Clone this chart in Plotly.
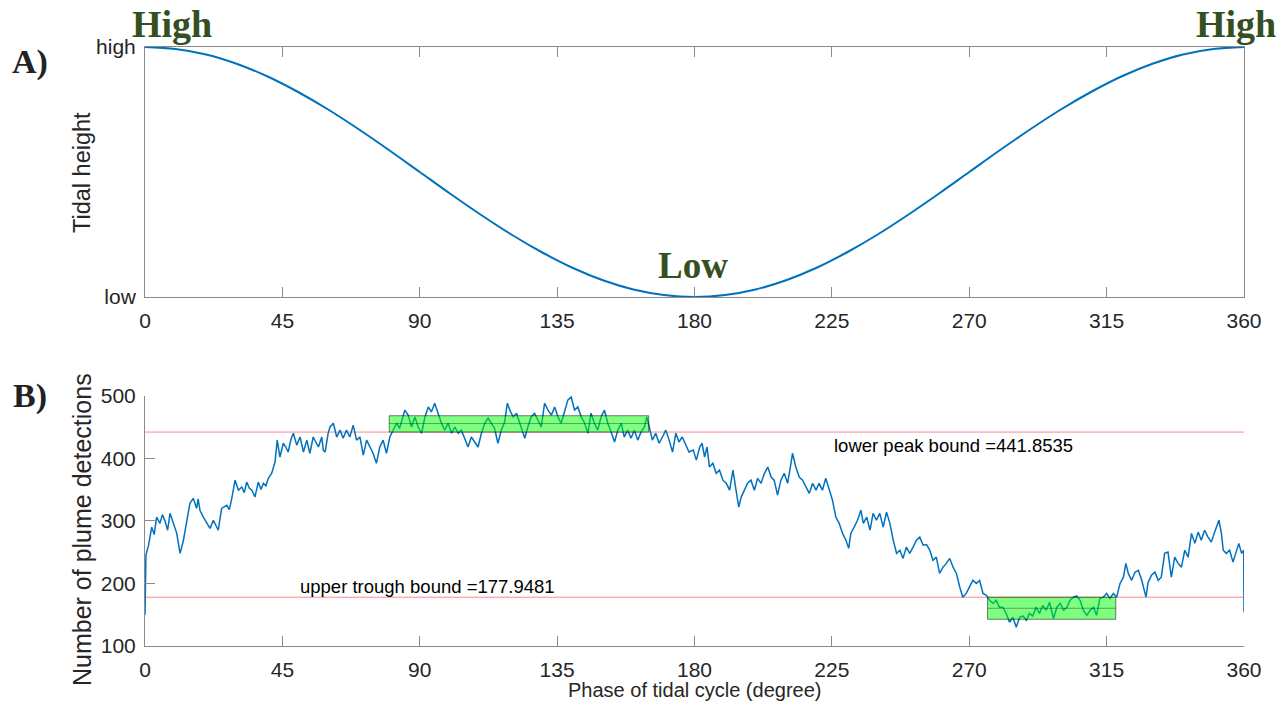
import plotly.graph_objects as go

# ---------------- data ----------------
# Panel A: tidal height (normalised, 0 = low, 1 = high) read every 10 degrees
tide_phase = list(range(0, 361, 10))
tide_height = [1.000, 0.992, 0.970, 0.933, 0.883, 0.821, 0.750, 0.671, 0.587, 0.500,
               0.413, 0.329, 0.250, 0.179, 0.117, 0.067, 0.030, 0.008, 0.000,
               0.008, 0.030, 0.067, 0.117, 0.179, 0.250, 0.329, 0.413, 0.500,
               0.587, 0.671, 0.750, 0.821, 0.883, 0.933, 0.970, 0.992, 1.000]

# Panel B: number of plume detections vs phase (traced)
plume_phase = [
    0, 0.3, 1.2, 2.2, 3.0, 3.8, 4.9, 5.7, 6.55, 7.4, 8.2, 9.3, 10.4, 11.0, 11.5, 12.6, 13.6, 14.7,
    15.8, 16.9, 17.4, 18.0, 19.1, 20.2, 21.3, 22.4, 23.2, 24.0, 25.1, 26.8, 27.6, 28.4, 29.5,
    30.6, 31.7, 32.5, 33.3, 34.2, 35.0, 36.0, 37.1, 38.0, 38.8, 39.6, 40.4, 41.5, 42.6, 43.3,
    44.2, 45.3, 46.1, 46.9, 47.8, 48.6, 49.7, 50.8, 51.9, 53.0, 54.0, 55.1, 56.8, 57.9, 58.4,
    59.0, 60.0, 60.6, 61.7, 62.8, 63.9, 64.9, 66.0, 67.1, 68.2, 69.3, 70.4, 71.5, 72.6, 73.6,
    74.7, 75.8, 76.9, 78.0, 79.1, 80.2, 81.3, 82.4, 83.4, 84.3, 85.1, 86.2, 87.3, 88.4, 89.5,
    90.6, 91.7, 92.8, 93.8, 94.9, 96.0, 97.1, 98.2, 99.3, 100.4, 101.5, 102.6, 103.6, 104.7,
    105.8, 106.9, 108.0, 109.1, 110.2, 111.3, 112.4, 113.4, 114.5, 115.6, 116.7, 117.8, 118.7,
    119.5, 120.6, 121.7, 122.8, 123.8, 124.4, 125.4, 126.5, 127.6, 128.7, 129.8, 130.9, 132.0,
    133.1, 134.2, 135.3, 136.3, 137.4, 138.5, 139.6, 140.7, 141.8, 142.9, 144.0, 145.1, 146.1,
    147.2, 148.3, 149.4, 150.5, 151.6, 152.7, 153.8, 154.9, 156.0, 157.0, 158.1, 159.2, 160.3,
    161.4, 162.5, 163.6, 164.4, 165.2, 166.2, 167.3, 168.4, 169.5, 170.6, 171.7, 172.8, 173.9,
    174.9, 176.0, 177.1, 178.2, 179.6, 180.6, 181.7, 182.5, 183.3, 184.1, 184.9, 186.0, 187.1,
    188.2, 189.3, 190.4, 191.5, 192.6, 193.6, 194.5, 195.3, 196.3, 197.4, 198.5, 199.6, 200.7,
    201.8, 202.9, 204.0, 205.1, 206.1, 207.2, 208.3, 209.4, 210.5, 211.4, 212.1, 213.2, 214.3,
    215.4, 216.5, 217.6, 218.7, 219.8, 220.8, 221.9, 223.0, 224.1, 225.2, 226.3, 227.4, 228.5,
    229.6, 230.5, 231.2, 232.3, 233.4, 234.5, 235.3, 236.4, 237.5, 238.5, 239.6, 240.7, 241.8,
    242.9, 244.0, 245.1, 246.2, 247.3, 248.3, 249.4, 250.5, 251.6, 252.7, 253.8, 254.9, 256.0,
    257.1, 258.1, 259.2, 260.3, 261.4, 262.5, 263.6, 264.7, 265.8, 266.9, 267.9, 269.0, 270.1,
    271.2, 272.3, 273.4, 274.5, 275.6, 276.7, 277.8, 278.8, 279.9, 281.0, 282.1, 283.2, 284.3,
    285.4, 286.5, 287.6, 288.7, 289.7, 290.8, 291.9, 293.0, 294.1, 295.2, 296.3, 297.6, 298.7,
    299.8, 300.9, 302.0, 303.0, 304.1, 305.2, 306.3, 307.4, 308.5, 309.6, 310.7, 311.7, 312.8,
    313.9, 315.0, 316.1, 317.2, 318.3, 319.4, 320.5, 321.3, 322.1, 323.2, 324.3, 325.4, 326.5,
    327.9, 328.6, 329.7, 330.8, 331.9, 332.9, 334.0, 335.1, 336.2, 337.3, 338.4, 339.5, 340.6,
    341.7, 342.8, 343.9, 345.0, 346.0, 347.1, 348.2, 349.3, 350.4, 351.8, 352.6, 353.2, 354.2,
    355.3, 356.4, 357.5, 358.3, 359.2, 359.9, 360.0]
plume_count = [
    150, 245, 262, 290, 278, 306, 296, 310, 300, 285, 312, 296, 280, 262, 248, 269, 296, 328,
    336, 320, 335, 317, 306, 296, 288, 301, 292, 285, 320, 325, 318, 335, 365,
    349, 354, 345, 362, 352, 349, 338, 362, 350, 360, 356, 368, 376, 394, 429,
    402, 424, 418, 410, 430, 440, 421, 434, 410, 429, 408, 434, 418, 434, 413,
    410, 440, 450, 456, 434, 445, 432, 445, 434, 453, 429, 434, 405, 429, 418,
    408, 392, 418, 429, 408, 434, 445, 456, 448, 462, 477, 469, 450, 466, 450,
    440, 466, 482, 474, 488, 472, 456, 445, 456, 440, 450, 440, 445, 432,
    418, 434, 426, 418, 440, 456, 464, 456, 448, 424, 445, 458, 488,
    477, 466, 472, 456, 440, 432, 450, 466, 472, 461, 450, 488, 477,
    469, 482, 466, 456, 474, 493, 498, 477, 482, 466, 456, 440, 472,
    456, 445, 466, 477, 456, 442, 426, 445, 456, 434, 445, 432, 445,
    429, 442, 450, 466, 450, 429, 440, 424, 434, 445, 429, 410, 440,
    426, 434, 421, 410, 413, 397, 418, 424, 402, 418, 386, 392, 376,
    381, 365, 360, 349, 381, 349, 322, 338, 349, 360, 365, 349, 368,
    360, 376, 386, 370, 365, 341, 365, 376, 360, 386, 408, 386, 370,
    365, 354, 344, 360, 349, 360, 349, 368, 349, 333, 306, 296, 280,
    269, 256, 280, 290, 301, 317, 296, 306, 285, 312, 301, 312, 290,
    314, 296, 269, 248, 253, 240, 258, 248, 258, 269, 274, 261, 262,
    253, 237, 242, 216, 226, 232, 240, 226, 216, 194, 178, 184, 194,
    205, 200, 205, 184, 181, 173, 168, 173, 162, 162, 152, 138, 146,
    130, 146, 148, 141, 152, 148, 162, 152, 165, 157, 170, 144, 162,
    168, 157, 162, 173, 178, 180, 173, 157, 149, 157, 162, 149, 176,
    178, 184, 176, 184, 178, 200, 210, 232, 216, 205, 218, 221, 205,
    178, 202, 213, 218, 205, 210, 248, 250, 210, 242, 232, 226, 253,
    242, 280, 264, 282, 269, 285, 274, 266, 282, 301, 280, 253, 248,
    253, 234, 253, 264, 248, 253, 154]

lower_peak_bound = 441.8535
upper_trough_bound = 177.9481

# highlighted windows: [phase start, phase end, low, middle, high]
peak_window = [80, 165, 441.8535, 455.5, 468]
trough_window = [276, 318, 142.7, 160.3, 177.9481]

x_ticks = [0, 45, 90, 135, 180, 225, 270, 315, 360]
b_y_ticks = [100, 200, 300, 400, 500]

# ---------------- figure ----------------
BLUE = "#0072BD"
AXC = "#8a8a8a"
TXT = "#262626"
GREEN_TXT = "#344f22"
FONT = "Liberation Sans, Arial, sans-serif"
SERIF = "Liberation Serif, Times New Roman, serif"

W, H = 1286, 711
ML, MR, MT, MB = 145, 42, 47, 65
PW, PH = W - ML - MR, H - MT - MB


def xp(px):
    return (px - ML) / PW


def yp(py):
    return (H - MB - py) / PH


fig = go.Figure()
fig.add_trace(go.Scatter(x=tide_phase, y=tide_height, mode="lines",
                         line=dict(color=BLUE, width=2, shape="spline"),
                         xaxis="x", yaxis="y", showlegend=False, hoverinfo="skip"))
fig.add_trace(go.Scatter(x=plume_phase, y=plume_count, mode="lines",
                         line=dict(color=BLUE, width=1.5),
                         xaxis="x2", yaxis="y2", showlegend=False))

# bound lines
for val in (lower_peak_bound, upper_trough_bound):
    fig.add_shape(type="line", xref="x2", yref="y2", x0=0, x1=360, y0=val, y1=val,
                  line=dict(color="rgba(240,80,80,0.65)", width=1), layer="below")

# highlighted windows
for win in (peak_window, trough_window):
    x0, x1, lo, mid, hi = win
    fig.add_shape(type="rect", xref="x2", yref="y2", x0=x0, x1=x1, y0=lo, y1=hi,
                  fillcolor="rgba(0,255,0,0.5)", line=dict(color="rgba(0,0,0,0.5)", width=1))
    fig.add_shape(type="line", xref="x2", yref="y2", x0=x0, x1=x1, y0=mid, y1=mid,
                  line=dict(color="rgba(0,0,0,0.35)", width=1))

axis_common = dict(showgrid=False, zeroline=False, showline=True, linecolor=AXC, linewidth=1,
                   ticks="inside", ticklen=10, tickcolor=AXC, tickwidth=1,
                   tickfont=dict(family=FONT, size=21, color=TXT))

fig.update_layout(
    width=W, height=H,
    margin=dict(l=ML, r=MR, t=MT, b=MB),
    paper_bgcolor="white", plot_bgcolor="white",
    xaxis=dict(domain=[0, 1], range=[0, 360], tickvals=x_ticks, mirror="ticks",
               anchor="y", ticklabelstandoff=5, **axis_common),
    yaxis=dict(domain=[yp(297), 1], range=[0, 1], tickvals=[0, 1], ticktext=["low", "high"],
               mirror="ticks", anchor="x", ticklabelstandoff=4, **axis_common),
    xaxis2=dict(domain=[0, 1], range=[0, 360], tickvals=x_ticks, anchor="y2",
                ticklabelstandoff=5, **axis_common),
    yaxis2=dict(domain=[0, yp(395.7)], range=[100, 500], tickvals=b_y_ticks, anchor="x2",
                ticklabelstandoff=4, **axis_common),
)


def paper_text(text, px, py, size, family=FONT, color=TXT, angle=0):
    return dict(text=text, x=xp(px), y=yp(py), xref="paper", yref="paper",
                xanchor="center", yanchor="middle", textangle=angle, showarrow=False,
                font=dict(family=family, size=size, color=color))


ann = []
# panel letters
ann.append(paper_text("<b>A)</b>", 30, 62, 34, SERIF, "#222222"))
ann.append(paper_text("<b>B)</b>", 30, 396, 34, SERIF, "#222222"))
# High / Low labels
ann.append(paper_text("<b>High</b>", 172, 24, 38, SERIF, GREEN_TXT))
ann.append(paper_text("<b>High</b>", 1236, 24, 38, SERIF, GREEN_TXT))
ann.append(dict(text="<b>Low</b>", x=179.5, y=0.128, xref="x", yref="y", showarrow=False,
                xanchor="center", yanchor="middle",
                font=dict(family=SERIF, size=37, color=GREEN_TXT)))
# bound labels
ann.append(dict(text="lower peak bound =" + f"{lower_peak_bound:.4f}", x=224.9, y=421,
                xref="x2", yref="y2", xanchor="left", yanchor="middle", showarrow=False,
                font=dict(family=FONT, size=18.5, color="black")))
ann.append(dict(text="upper trough bound =" + f"{upper_trough_bound:.4f}", x=50.0, y=195.5,
                xref="x2", yref="y2", xanchor="left", yanchor="middle", showarrow=False,
                font=dict(family=FONT, size=18.5, color="black")))
# axis titles
ann.append(paper_text("Tidal height", 82, 173, 23.5, angle=-90))
ann.append(paper_text("Number of plume detections", 82, 530, 25, angle=-90))
ann.append(paper_text("Phase of tidal cycle (degree)", 694.5, 690, 20))

fig.update_layout(annotations=ann)

fig.write_html("out.html")
